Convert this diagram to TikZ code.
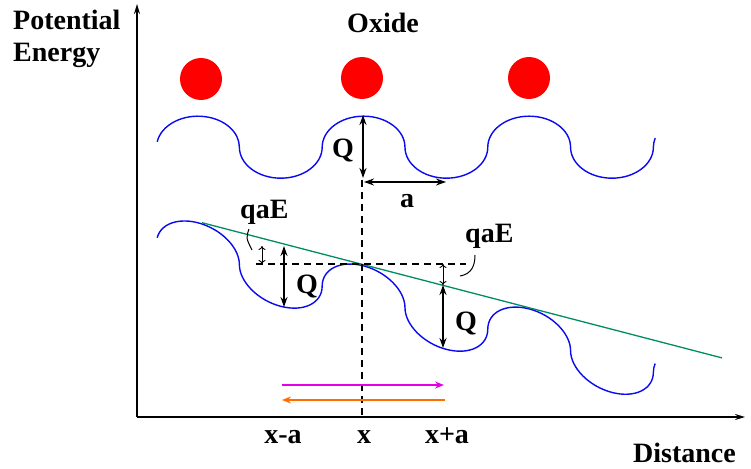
\documentclass[tikz,border=0pt]{standalone}
\usepackage{fontspec}
\setmainfont{Liberation Serif}
\usetikzlibrary{arrows.meta}
\definecolor{wave}{RGB}{10,10,240}
\definecolor{tline}{RGB}{0,140,100}
\definecolor{oxred}{RGB}{255,0,0}
\definecolor{magarr}{RGB}{230,0,230}
\definecolor{orgarr}{RGB}{255,110,0}
\begin{document}
\begin{tikzpicture}[x=1pt,y=-1pt,
  lbl/.style={font=\fontsize{28}{32}\selectfont\bfseries,inner sep=0pt},
  wavepath/.style={draw=wave,line width=1.4pt},
  qarrow/.style={line width=1.6pt,{Stealth[length=10pt,width=7pt]}-{Stealth[length=10pt,width=7pt]}},
  sarrow/.style={line width=0.9pt,{To[length=4pt,width=7pt]}-{To[length=4pt,width=7pt]}},
  axisline/.style={line width=1.6pt,-{Stealth[length=10pt,width=6pt]}},
  dashline/.style={line width=1.8pt,dash pattern=on 7pt off 5pt},
  leader/.style={line width=1pt},
  atom/.style={circle,fill=oxred,minimum size=42pt,inner sep=0pt}]
\useasboundingbox (0,0) rectangle (751,468);

% axes
\coordinate (origin) at (137,417);
\coordinate (ytop) at (137,4);
\coordinate (xend) at (745,417);
\draw[axisline] (origin) -- (ytop);
\draw[axisline] (origin) -- (xend);

% labels
\node[lbl,anchor=base west] (pot) at (13,30) {Potential};
\node[lbl,anchor=base west] (ener) at (13,62) {Energy};
\node[lbl,anchor=base] (oxide) at (383,33) {Oxide};
\node[lbl,anchor=base west] (dist) at (633,462) {Distance};

% atoms
\node[atom] (at1) at (201,79) {};
\node[atom] (at2) at (362,78) {};
\node[atom] (at3) at (529,78) {};

% upper wave
\def\wavecurve{(157.2,141.8)
  arc[start angle=190,end angle=360,x radius=41.4,y radius=31]
  arc[start angle=180,end angle=0,x radius=41.4,y radius=31]
  arc[start angle=180,end angle=360,x radius=41.4,y radius=31]
  arc[start angle=180,end angle=0,x radius=41.4,y radius=31]
  arc[start angle=180,end angle=360,x radius=41.4,y radius=31]
  arc[start angle=180,end angle=0,x radius=41.4,y radius=31]
  arc[start angle=180,end angle=197,x radius=41.4,y radius=31]}
\draw[wavepath] \wavecurve;

% lower (tilted) wave
\begin{scope}[cm={1,-0.26,0,1,(0pt,-55.14pt)}]
\draw[wavepath] \wavecurve;
\end{scope}

% tilted line
\coordinate (g1) at (202,222.7);
\coordinate (g2) at (722,357.9);
\draw[tline,line width=1.3pt] (g1) -- (g2);

% vertical dashed line
\coordinate (vtop) at (362,180);
\coordinate (vbot) at (362,417);
\draw[dashline] (vtop) -- (vbot);

% upper Q arrow and a arrow
\coordinate (q1t) at (363,115);
\coordinate (q1b) at (363,178);
\draw[qarrow] (q1t) -- (q1b);
\node[lbl,anchor=base] (qup) at (343,157) {Q};
\coordinate (a1) at (364,182);
\coordinate (a2) at (446,182);
\draw[line width=1.2pt,{Stealth[length=10pt,width=7pt]}-{Stealth[length=10pt,width=7pt]}] (a1) -- (a2);
\node[lbl,anchor=base] (alab) at (407,207) {a};

% horizontal dashed line
\coordinate (h1) at (256,264);
\coordinate (h2) at (466,264);
\draw[dashline] (h1) -- (h2);

% left qaE / Q
\coordinate (s1t) at (262,246);
\coordinate (s1b) at (262,264);
\draw[sarrow] (s1t) -- (s1b);
\coordinate (q2t) at (284,246);
\coordinate (q2b) at (284,307);
\draw[qarrow] (q2t) -- (q2b);
\node[lbl,anchor=base] (qleft) at (307,293) {Q};
\node[lbl,anchor=base west] (qaeL) at (240,218) {qaE};
\coordinate (l1a) at (249,229);
\coordinate (l1b) at (252,250);
\draw[leader] (l1a) .. controls (246,238) .. (l1b);

% right qaE / Q
\coordinate (s2t) at (443,264);
\coordinate (s2b) at (443,285);
\draw[sarrow] (s2t) -- (s2b);
\coordinate (q3t) at (443,285);
\coordinate (q3b) at (443,348);
\draw[qarrow] (q3t) -- (q3b);
\node[lbl,anchor=base] (qright) at (466,330) {Q};
\node[lbl,anchor=base west] (qaeR) at (465,242) {qaE};
\coordinate (l2a) at (460,276);
\coordinate (l2b) at (475,255);
\draw[leader] (l2a) .. controls (472,274) and (475,265) .. (l2b);

% colored arrows
\coordinate (m1) at (282,385);
\coordinate (m2) at (444,385);
\draw[magarr,line width=1.6pt,-{Stealth[length=9pt,width=7pt]}] (m1) -- (m2);
\coordinate (o1) at (445,400);
\coordinate (o2) at (282,400);
\draw[orgarr,line width=1.6pt,-{Stealth[length=9pt,width=7pt]}] (o1) -- (o2);

% x labels
\node[lbl,anchor=base] (xma) at (283,443) {x-a};
\node[lbl,anchor=base] (xx) at (364,443) {x};
\node[lbl,anchor=base] (xpa) at (447,443) {x+a};
\end{tikzpicture}
\end{document}
